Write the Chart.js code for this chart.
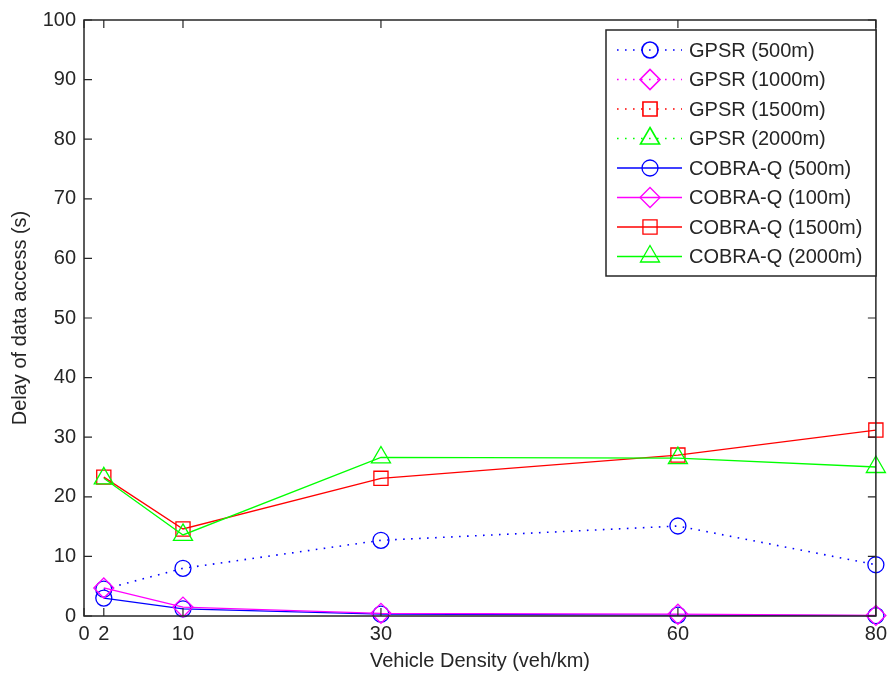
<!DOCTYPE html>
<html>
<head>
<meta charset="utf-8">
<title>Delay of data access</title>
<script src="https://cdn.jsdelivr.net/npm/chart.js@4.4.0/dist/chart.umd.js"></script>
<style>
    html, body { margin: 0; padding: 0; background: #fff; }
    #wrap { width: 893px; height: 675px; }
</style>
</head>
<body>
<div id="wrap"><canvas id="delay" width="893" height="675"></canvas></div>
<script>
// vehicle density (veh/km) and axis ticks
const densities = [2, 10, 30, 60, 80];
const xTickValues = [0, 2, 10, 30, 60, 80];
const yTickStep = 10;

// delay of data access (s)
const gpsr500 = [4.5, 8.0, 12.7, 15.1, 8.6];
const gpsr1000 = [];
const gpsr1500 = [];
const gpsr2000 = [];
const cobra500 = [3.0, 1.2, 0.3, 0.15, 0.05];
const cobra100 = [4.7, 1.5, 0.45, 0.3, 0.1];
const cobra1500 = [23.3, 14.6, 23.1, 27.0, 31.2];
const cobra2000 = [23.1, 13.6, 26.6, 26.5, 25.0];

const seriesLabels = [
    'GPSR (500m)', 'GPSR (1000m)', 'GPSR (1500m)', 'GPSR (2000m)',
    'COBRA-Q (500m)', 'COBRA-Q (100m)', 'COBRA-Q (1500m)', 'COBRA-Q (2000m)'
];

const FONT = '"Liberation Sans", Arial, Helvetica, sans-serif';
const INK = '#262626';
const DOTTED = [1.6, 6.4];

const markers = {
    circle: { pointStyle: 'circle', radius: 8 },
    diamond: { pointStyle: 'rectRot', radius: 10 },
    square: { pointStyle: 'rect', radius: 10 },
    triangle: { pointStyle: 'triangle', radius: 11 }
};

function toPoints(values) {
    return values.map((v, i) => ({ x: densities[i], y: v }));
}

function makeSeries(index, values, color, marker, dash) {
    return {
        label: seriesLabels[index],
        data: toPoints(values),
        borderColor: color,
        backgroundColor: color,
        borderWidth: dash.length ? 1.6 : 1.3,
        borderDash: dash,
        pointStyle: marker.pointStyle,
        pointRadius: marker.radius,
        pointBorderColor: color,
        pointBackgroundColor: 'rgba(0,0,0,0)',
        pointBorderWidth: 1.3,
        tension: 0,
        clip: false,
        order: -index
    };
}

const datasets = [
    makeSeries(0, gpsr500, '#0000ff', markers.circle, DOTTED),
    makeSeries(1, gpsr1000, '#ff00ff', markers.diamond, DOTTED),
    makeSeries(2, gpsr1500, '#ff0000', markers.square, DOTTED),
    makeSeries(3, gpsr2000, '#00ff00', markers.triangle, DOTTED),
    makeSeries(4, cobra500, '#0000ff', markers.circle, []),
    makeSeries(5, cobra100, '#ff00ff', markers.diamond, []),
    makeSeries(6, cobra1500, '#ff0000', markers.square, []),
    makeSeries(7, cobra2000, '#00ff00', markers.triangle, [])
];

// axes box with inward ticks on all four sides
const axesBox = {
    id: 'axesBox',
    afterDatasetsDraw(chart) {
        const { ctx, chartArea: a, scales } = chart;
        const tick = 8;
        ctx.save();
        ctx.strokeStyle = INK;
        ctx.lineWidth = 1.5;
        ctx.setLineDash([]);
        ctx.strokeRect(a.left, a.top, a.right - a.left, a.bottom - a.top);
        ctx.lineWidth = 1.2;
        ctx.beginPath();
        scales.x.ticks.forEach(t => {
            const px = scales.x.getPixelForValue(t.value);
            ctx.moveTo(px, a.bottom); ctx.lineTo(px, a.bottom - tick);
            ctx.moveTo(px, a.top); ctx.lineTo(px, a.top + tick);
        });
        scales.y.ticks.forEach(t => {
            const py = scales.y.getPixelForValue(t.value);
            ctx.moveTo(a.left, py); ctx.lineTo(a.left + tick, py);
            ctx.moveTo(a.right, py); ctx.lineTo(a.right - tick, py);
        });
        ctx.stroke();
        ctx.restore();
    }
};

// boxed legend: short line sample with the marker in the middle
const lineLegend = {
    id: 'lineLegend',
    afterDraw(chart) {
        const { ctx } = chart;
        const box = { left: 606, top: 30, right: 876, bottom: 276 };
        const firstRow = 50, rowGap = 29.5;
        const lineFrom = 617, lineTo = 682, markX = 650, textX = 689;
        ctx.save();
        ctx.fillStyle = '#fff';
        ctx.fillRect(box.left, box.top, box.right - box.left, box.bottom - box.top);
        ctx.strokeStyle = INK;
        ctx.lineWidth = 1.5;
        ctx.strokeRect(box.left, box.top, box.right - box.left, box.bottom - box.top);
        chart.data.datasets.forEach((ds, i) => {
            const y = firstRow + i * rowGap;
            ctx.strokeStyle = ds.borderColor;
            ctx.lineWidth = ds.borderWidth;
            ctx.setLineDash(ds.borderDash);
            ctx.beginPath();
            ctx.moveTo(lineFrom, y);
            ctx.lineTo(lineTo, y);
            ctx.stroke();
            ctx.setLineDash([]);
            ctx.fillStyle = 'rgba(0,0,0,0)';
            Chart.helpers.drawPoint(ctx, {
                pointStyle: ds.pointStyle,
                radius: ds.pointRadius,
                rotation: 0,
                borderWidth: ds.pointBorderWidth
            }, markX, y);
            ctx.fillStyle = INK;
            ctx.font = '20px ' + FONT;
            ctx.textAlign = 'left';
            ctx.textBaseline = 'middle';
            ctx.fillText(ds.label, textX, y + 1);
        });
        ctx.restore();
    }
};

Chart.defaults.font.family = FONT;
Chart.defaults.font.size = 20;
Chart.defaults.color = INK;

new Chart(document.getElementById('delay'), {
    type: 'line',
    data: { datasets },
    options: {
        responsive: false,
        animation: false,
        devicePixelRatio: 1,
        layout: { padding: { top: 19, right: 9, left: 0, bottom: 0 } },
        plugins: {
            legend: { display: false },
            tooltip: { enabled: false }
        },
        scales: {
            x: {
                type: 'linear',
                min: 0,
                max: 80,
                afterBuildTicks: scale => {
                    scale.ticks = xTickValues.map(v => ({ value: v }));
                },
                afterFit: scale => { scale.height = 59; },
                grid: { display: false, drawTicks: false },
                border: { display: false },
                ticks: { padding: 6, maxRotation: 0, autoSkip: false, font: { size: 20 } },
                title: {
                    display: true,
                    text: 'Vehicle Density (veh/km)',
                    font: { size: 20 },
                    padding: { top: 0, bottom: 2 }
                }
            },
            y: {
                min: 0,
                max: 100,
                afterFit: scale => { scale.width = 84; },
                grid: { display: false, drawTicks: false },
                border: { display: false },
                ticks: { stepSize: yTickStep, padding: 8, font: { size: 20 } },
                title: {
                    display: true,
                    text: 'Delay of data access (s)',
                    font: { size: 20 },
                    padding: { top: 8, bottom: 0 }
                }
            }
        }
    },
    plugins: [axesBox, lineLegend]
});
</script>
</body>
</html>
